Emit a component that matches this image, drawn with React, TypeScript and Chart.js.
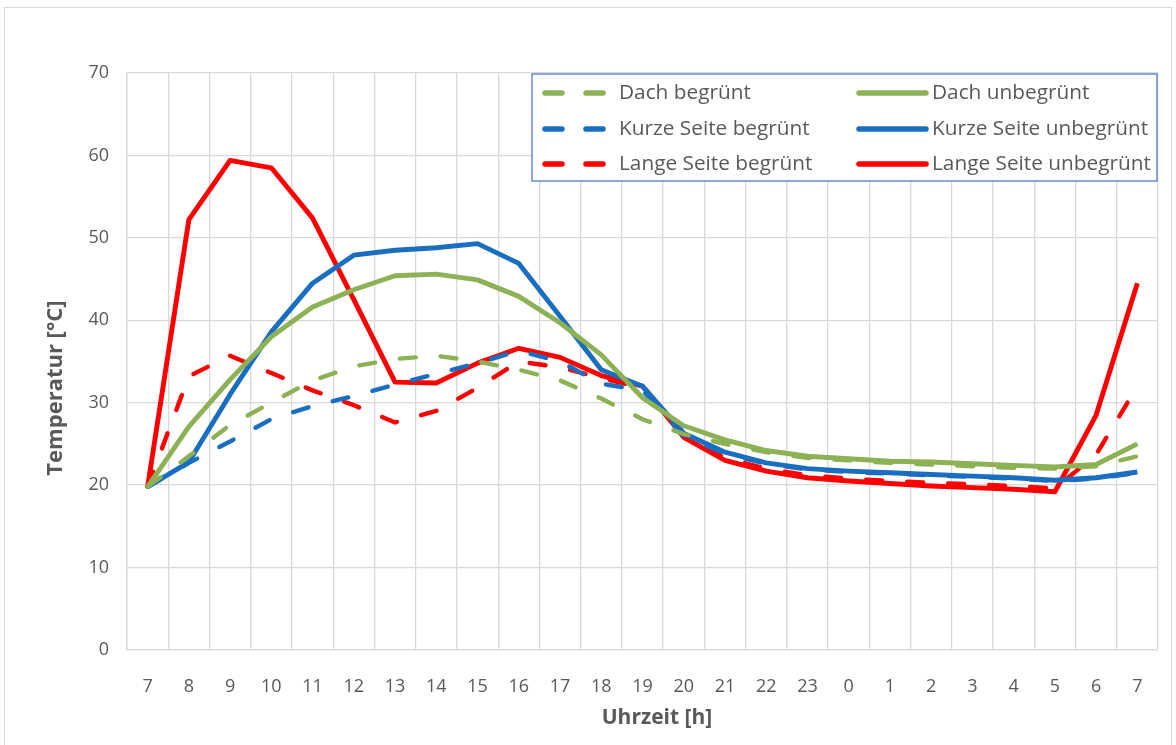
import React, { useEffect, useRef } from "react";
import { Chart, registerables } from "chart.js";

Chart.register(...registerables);

const hours = ["7", "8", "9", "10", "11", "12", "13", "14", "15", "16", "17", "18", "19", "20", "21", "22", "23", "0", "1", "2", "3", "4", "5", "6", "7"];

const dachBegruent = [19.8, 23.5, 27.3, 30.0, 32.7, 34.4, 35.3, 35.7, 35.0, 34.0, 32.7, 30.5, 28.0, 26.2, 25.0, 24.0, 23.3, 23.0, 22.7, 22.5, 22.3, 22.1, 22.0, 22.3, 23.5];
const dachUnbegruent = [19.8, 27.1, 32.8, 38.0, 41.6, 43.7, 45.4, 45.6, 44.9, 42.9, 39.7, 35.8, 30.6, 27.2, 25.5, 24.2, 23.5, 23.2, 22.9, 22.8, 22.6, 22.4, 22.2, 22.5, 25.0];
const kurzeBegruent = [19.8, 22.7, 25.3, 28.0, 29.6, 30.8, 32.2, 33.5, 34.8, 36.3, 35.0, 32.3, 31.5, 26.0, 23.8, 22.6, 21.9, 21.6, 21.4, 21.2, 21.0, 20.8, 20.5, 20.8, 21.5];
const kurzeUnbegruent = [19.8, 22.8, 31.0, 38.6, 44.5, 47.9, 48.5, 48.8, 49.3, 46.9, 40.5, 34.0, 32.0, 26.3, 24.0, 22.7, 22.0, 21.7, 21.5, 21.3, 21.1, 20.9, 20.6, 20.9, 21.6];
const langeBegruent = [19.8, 33.2, 35.7, 33.6, 31.5, 29.7, 27.6, 29.0, 31.8, 35.0, 34.3, 33.0, 31.8, 26.0, 23.3, 22.0, 21.2, 20.8, 20.5, 20.3, 20.1, 19.9, 19.6, 23.7, 32.0];
const langeUnbegruent = [19.8, 52.2, 59.4, 58.5, 52.4, 42.5, 32.5, 32.4, 34.8, 36.6, 35.5, 33.3, 32.0, 25.8, 23.0, 21.7, 20.9, 20.5, 20.2, 19.9, 19.7, 19.5, 19.2, 28.5, 44.5];

const seriesLabels = [
  "Dach begrünt",
  "Dach unbegrünt",
  "Kurze Seite begrünt",
  "Kurze Seite unbegrünt",
  "Lange Seite begrünt",
  "Lange Seite unbegrünt",
];

const yTitle = "Temperatur [°C]";
const xTitle = "Uhrzeit [h]";

const GREEN = "#8DB255";
const BLUE = "#1A6EC0";
const RED = "#FF0000";
const TEXT = "#595959";
const GRID = "#D9D9D9";
const FONT = "'Open Sans', Lato, sans-serif";
const DASH = [16, 25];

const boxLegend = {
  id: "boxLegend",
  afterDraw(chart: any) {
    const { ctx, chartArea } = chart;
    const left = 532;
    const top = chartArea.top + 1;
    const right = chartArea.right - 1;
    const bottom = 181;
    ctx.save();
    ctx.fillStyle = "#ffffff";
    ctx.fillRect(left, top, right - left, bottom - top);
    ctx.strokeStyle = "#4F7CC9";
    ctx.lineWidth = 1.3;
    ctx.strokeRect(left, top, right - left, bottom - top);
    const rows = [93, 129, 164];
    const cols = [
      { s0: 543, s1: 606, tx: 619 },
      { s0: 857, s1: 928, tx: 932 },
    ];
    ctx.font = `20.8px ${FONT}`;
    ctx.textBaseline = "middle";
    ctx.textAlign = "left";
    chart.data.datasets.forEach((ds: any, i: number) => {
      const c = cols[i % 2];
      const y = rows[Math.floor(i / 2)];
      ctx.beginPath();
      ctx.strokeStyle = ds.borderColor;
      ctx.lineWidth = 5.5;
      ctx.lineCap = "round";
      ctx.setLineDash(ds.borderDash && ds.borderDash.length ? [17, 24] : []);
      ctx.moveTo(c.s0 + 2, y);
      ctx.lineTo(c.s1 - 2, y);
      ctx.stroke();
      ctx.setLineDash([]);
      ctx.fillStyle = TEXT;
      ctx.fillText(ds.label, c.tx, y);
    });
    ctx.restore();
  },
};

const axisTitles = {
  id: "axisTitles",
  afterDraw(chart: any) {
    const { ctx } = chart;
    ctx.save();
    ctx.fillStyle = TEXT;
    ctx.textAlign = "center";
    ctx.textBaseline = "middle";
    ctx.font = `bold 21px ${FONT}`;
    ctx.fillText(xTitle, 657, 718);
    ctx.translate(56, 388);
    ctx.rotate(-Math.PI / 2);
    ctx.font = `bold 22px ${FONT}`;
    ctx.fillText(yTitle, 0, 0);
    ctx.restore();
  },
};

export default function App() {
  const canvasRef = useRef<HTMLCanvasElement | null>(null);

  useEffect(() => {
    if (!canvasRef.current) return;
    const mk = (label: string, data: number[], color: string, dashed: boolean) => ({
      label,
      data,
      borderColor: color,
      backgroundColor: color,
      borderWidth: dashed ? 4.4 : 4.9,
      borderDash: dashed ? DASH : [],
      borderCapStyle: dashed ? "round" : "butt",
      borderJoinStyle: "round",
      pointRadius: 0,
      tension: 0,
      fill: false,
    });
    const chart = new Chart(canvasRef.current, {
      type: "line",
      data: {
        labels: hours,
        datasets: [
          mk(seriesLabels[0], dachBegruent, GREEN, true),
          mk(seriesLabels[1], dachUnbegruent, GREEN, false),
          mk(seriesLabels[2], kurzeBegruent, BLUE, true),
          mk(seriesLabels[3], kurzeUnbegruent, BLUE, false),
          mk(seriesLabels[4], langeBegruent, RED, true),
          mk(seriesLabels[5], langeUnbegruent, RED, false),
        ] as any,
      },
      options: {
        animation: false,
        responsive: false,
        maintainAspectRatio: false,
        devicePixelRatio: 1,
        layout: { padding: { top: 73, right: 18, left: 0, bottom: 0 } },
        plugins: {
          legend: { display: false },
          tooltip: { enabled: false },
          title: { display: false },
        },
        scales: {
          x: {
            type: "category",
            offset: true,
            grid: { offset: true, color: GRID, lineWidth: 1.3, drawTicks: false },
            border: { display: true, color: GRID, width: 1.3 },
            ticks: { color: TEXT, font: { family: FONT, size: 18 }, padding: 26, maxRotation: 0, autoSkip: false },
            title: { display: false },
            afterFit: (s: any) => {
              s.height = 95;
            },
          },
          y: {
            min: 0,
            max: 70,
            grid: { color: GRID, lineWidth: 1.3, drawTicks: false },
            border: { display: true, color: GRID, width: 1.3 },
            ticks: { stepSize: 10, color: TEXT, font: { family: FONT, size: 18 }, padding: 18 },
            title: { display: false },
            afterFit: (s: any) => {
              s.width = 127;
            },
          },
        },
      },
      plugins: [boxLegend, axisTitles],
    } as any);
    return () => chart.destroy();
  }, []);

  return (
    <div style={{ position: "fixed", left: 0, top: 0, width: 1176, height: 745, background: "#fff", overflow: "hidden" }}>
      <div
        style={{
          position: "absolute",
          left: 4,
          top: 7,
          width: 1168,
          height: 745,
          border: `1.5px solid ${GRID}`,
          boxSizing: "border-box",
        }}
      />
      <canvas ref={canvasRef} width={1176} height={745} style={{ position: "absolute", left: 0, top: 0 }} />
    </div>
  );
}
